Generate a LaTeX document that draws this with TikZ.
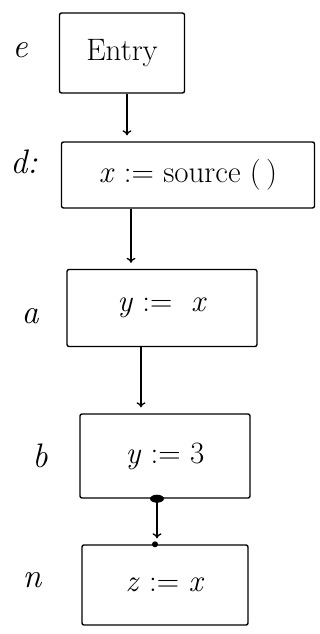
\documentclass[tikz,border=0pt]{standalone}
\usepackage{fontspec}
\usepackage{amsmath}
\usepackage{amssymb}
\usetikzlibrary{arrows.meta}

\begin{document}
\begin{tikzpicture}[x=1pt, y=-1pt,
        % Define styles for the blocks, their names and the flow edges
        block/.style={draw, line width=1.4pt, rounded corners=2pt, inner sep=0pt,
            font=\fontsize{31}{36}\selectfont},
        tag/.style={font=\fontsize{34}{38}\selectfont\itshape},
        flow/.style={line width=1.3pt, -{To[length=5pt, width=9pt]}, shorten >=6pt}]

        \useasboundingbox (0,0) rectangle (320,634);

        % 1. The five blocks of the flow graph
        \node[block, minimum width=125pt, minimum height=80pt] (entry) at (122,53) {Entry\hspace{6pt}};
        \node[block, minimum width=253pt, minimum height=66pt] (def) at (188,175) {\textit{x} := source (\,)\hspace{4pt}};
        \node[block, minimum width=190pt, minimum height=77pt] (asg) at (162,308) {\textit{y} :=\ \ \textit{x}\hspace{44pt}};
        \node[block, minimum width=170pt, minimum height=84pt] (cst) at (165,456) {\textit{y} := 3\hspace{28pt}};
        \node[block, minimum width=166pt, minimum height=80pt] (use) at (165,585) {\textit{z} := \textit{x}\hspace{24pt}};

        % 2. Names of the blocks, to the left
        \node[tag] (le) at (20,50) {e};
        \node[tag] (ld) at (24,162) {d:};
        \node[tag] (la) at (30,316) {a};
        \node[tag] (lb) at (40,456) {b};
        \node[tag] (ln) at (32,580) {n};

        % 3. Edges between the blocks
        \draw[flow] (entry.south -| 127,0) -- (def.north -| 127,0);
        \draw[flow] (def.south -| 131,0) -- (asg.north -| 131,0);
        \draw[flow] (asg.south -| 141,0) -- (cst.north -| 141,0);
        \draw[flow] (cst.south -| 157,0) -- (use.north -| 157,0);

        % 4. Dots on the last edge
        \fill (cst.south -| 157,0) ellipse (7pt and 4pt);
        \fill (use.north -| 155,0) circle (3pt);

    \end{tikzpicture}
\end{document}
